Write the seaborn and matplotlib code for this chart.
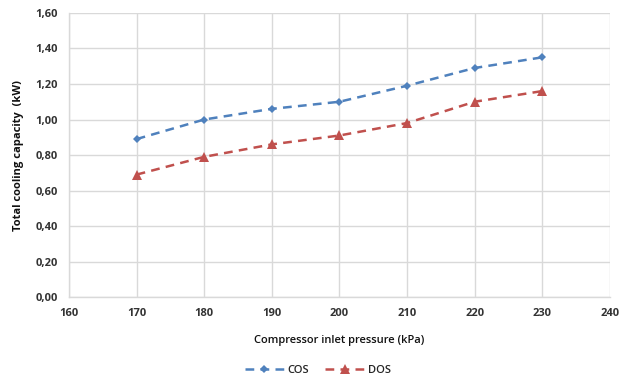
import matplotlib
matplotlib.use("Agg")
import matplotlib.pyplot as plt
import seaborn as sns
import pandas as pd

pressure = [170, 180, 190, 200, 210, 220, 230]
cos_vals = [0.89, 1.00, 1.06, 1.10, 1.19, 1.29, 1.35]
dos_vals = [0.69, 0.79, 0.86, 0.91, 0.98, 1.10, 1.16]
series_names = ["COS", "DOS"]
x_ticks = [160, 170, 180, 190, 200, 210, 220, 230, 240]
y_ticks = [0.0, 0.2, 0.4, 0.6, 0.8, 1.0, 1.2, 1.4, 1.6]

df = pd.DataFrame({
    "pressure": pressure * 2,
    "value": cos_vals + dos_vals,
    "series": [series_names[0]] * len(pressure) + [series_names[1]] * len(pressure),
})

sns.set_theme(style="white")
plt.rcParams['font.family'] = ['Open Sans', 'DejaVu Sans']

fig = plt.figure(figsize=(6.28, 3.8), dpi=100)
ax = fig.add_axes([0.110, 0.218, 0.861, 0.748])

palette = {"COS": "#4F81BD", "DOS": "#C0504D"}
markers = {"COS": "D", "DOS": "^"}
sizes = {"COS": 4.5, "DOS": 6.5}
for name in series_names:
    sub = df[df.series == name]
    sns.lineplot(data=sub, x="pressure", y="value", ax=ax, color=palette[name],
                 marker=markers[name], markersize=sizes[name], markeredgewidth=0,
                 linestyle=(0, (3.5, 2.5)), linewidth=1.8, label=name)

ax.set_xlim(160, 240)
ax.set_ylim(0, 1.6)
ax.set_xticks(x_ticks)
ax.set_yticks(y_ticks)
ax.set_xticklabels([str(t) for t in x_ticks], fontsize=8, fontweight='bold', color='#333333')
ax.set_yticklabels([f"{t:.2f}".replace('.', ',') for t in y_ticks], fontsize=8, fontweight='bold', color='#333333')
ax.grid(True, color='#d9d9d9', linewidth=1)
for s in ['top', 'right']:
    ax.spines[s].set_visible(False)
for s in ['left', 'bottom']:
    ax.spines[s].set_color('#d9d9d9')
    ax.spines[s].set_linewidth(1)
ax.tick_params(axis='both', length=0, pad=8)

ax.set_xlabel("Compressor inlet pressure (kPa)", fontsize=8, fontweight='semibold', color='#111111', labelpad=11)
ax.set_ylabel("Total cooling capacity  (kW)", fontsize=8, fontweight='bold', color='#111111', labelpad=8)

ax.get_legend().remove()
handles, labels = ax.get_legend_handles_labels()
fig.legend(handles, labels, loc='center', bbox_to_anchor=(0.506, 0.025), ncol=2, frameon=False,
           prop={'size': 8, 'weight': 'semibold'}, handlelength=3.5, columnspacing=1.5, handletextpad=0.3)

fig.savefig("out.png", dpi=100)
